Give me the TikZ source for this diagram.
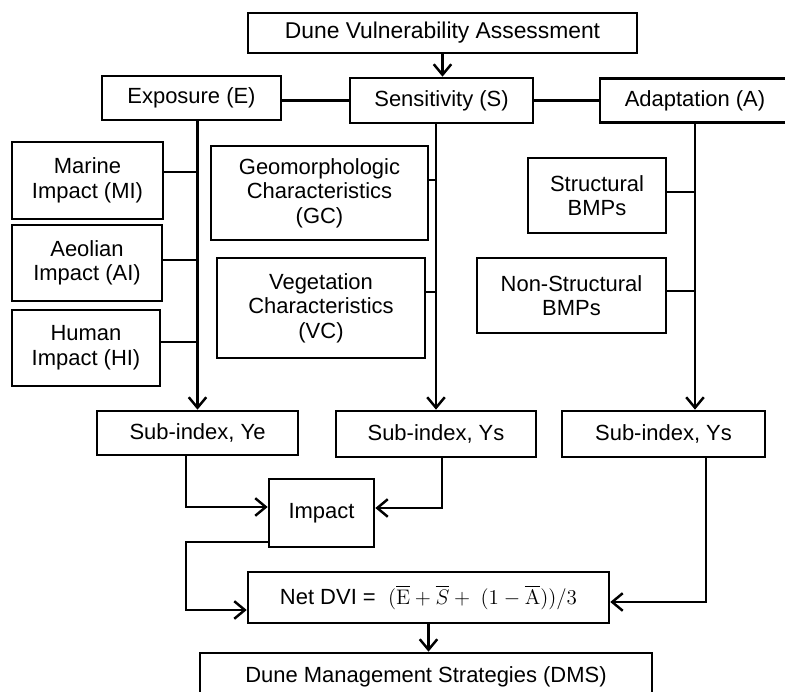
\documentclass[tikz,border=0pt]{standalone}
\usepackage[no-math]{fontspec}
\setmainfont{Liberation Sans}
\usepackage{amsmath}
\usetikzlibrary{arrows.meta}

\begin{document}
\begin{tikzpicture}[
    x=0.02cm, y=-0.02cm,
    box/.style={rectangle, draw, line width=1.5pt, align=center, inner sep=2pt, font=\fontsize{12.5}{14}\selectfont},
    link/.style={line width=1.4pt},
    flow/.style={line width=1.4pt, -{Straight Barb[length=6pt,width=10pt]}}
]
    \useasboundingbox (0,0) rectangle (785,692);

    % Top
    \node[box, minimum width=7.78cm, minimum height=0.8cm, font=\fontsize{13}{15}\selectfont] (dva) at (442.5,33) {Dune Vulnerability Assessment};

    % Three components
    \node[box, minimum width=3.58cm, minimum height=0.88cm] (expo) at (191.5,98) {Exposure (E)};
    \node[box, minimum width=3.66cm, minimum height=0.9cm] (sens) at (441.5,100.5) {Sensitivity (S)};
    \node[box, minimum width=3.8cm, minimum height=0.88cm] (adapt) at (695,100.5) {Adaptation (A)};
    \draw[flow] (dva.south) -- (dva.south |- sens.north);
    \draw[link] (sens.west) -- (sens.west -| expo.east);
    \draw[link] (sens.east) -- (sens.east -| adapt.west);

    % Exposure factors
    \node[box, minimum width=3.02cm, minimum height=1.54cm] (marine) at (87.5,180.5) {Marine\\Impact (MI)};
    \node[box, minimum width=3.0cm, minimum height=1.52cm] (aeolian) at (87,263) {Aeolian\\Impact (AI)};
    \node[box, minimum width=2.96cm, minimum height=1.52cm] (human) at (86,348) {Human\\Impact (HI)};

    % Sensitivity factors
    \node[box, minimum width=4.34cm, minimum height=1.88cm] (gc) at (319.5,193) {Geomorphologic\\Characteristics\\(GC)};
    \node[box, minimum width=4.16cm, minimum height=2.0cm] (vc) at (321,308) {Vegetation\\Characteristics\\(VC)};

    % Adaptation factors
    \node[box, minimum width=2.76cm, minimum height=1.5cm] (struct) at (597,195.5) {Structural\\BMPs};
    \node[box, minimum width=3.78cm, minimum height=1.5cm] (nonstr) at (571.5,295.5) {Non-Structural\\BMPs};

    % Sub-indices
    \node[box, minimum width=4.02cm, minimum height=0.88cm] (ye) at (197.5,433) {Sub-index, Ye};
    \node[box, minimum width=4.0cm, minimum height=0.92cm] (ys1) at (436,434) {Sub-index, Ys};
    \node[box, minimum width=4.06cm, minimum height=0.92cm] (ys2) at (663.5,434) {Sub-index, Ys};

    % Exposure branch
    \draw[flow] (ye.north |- expo.south) -- (ye.north);
    \coordinate (mi) at ([yshift=0.17cm]marine.east);
    \coordinate (ai) at ([yshift=0.06cm]aeolian.east);
    \coordinate (hi) at ([yshift=0.12cm]human.east);
    \draw[link] (mi) -- (mi -| ye.north);
    \draw[link] (ai) -- (ai -| ye.north);
    \draw[link] (hi) -- (hi -| ye.north);

    % Sensitivity branch
    \draw[flow] (ys1.north |- sens.south) -- (ys1.north);
    \coordinate (gcr) at ([yshift=0.26cm]gc.east);
    \coordinate (vcr) at ([yshift=0.32cm]vc.east);
    \draw[link] (gcr) -- (gcr -| ys1.north);
    \draw[link] (vcr) -- (vcr -| ys1.north);

    % Adaptation branch
    \draw[flow] (adapt.south) -- (adapt.south |- ys2.north);
    \coordinate (sr) at ([yshift=0.07cm]struct.east);
    \coordinate (nr) at ([yshift=0.09cm]nonstr.east);
    \draw[link] (sr) -- (sr -| adapt.south);
    \draw[link] (nr) -- (nr -| adapt.south);

    % Impact
    \node[box, minimum width=2.1cm, minimum height=1.36cm] (impact) at (321.5,513) {Impact};
    \coordinate (yeout) at ([xshift=-0.23cm]ye.south);
    \draw[flow] (yeout) |- ([yshift=0.12cm]impact.west);
    \draw[flow] ([xshift=0.12cm]ys1.south) |- ([yshift=0.1cm]impact.east);

    % Net index
    \node[box, minimum width=7.22cm, minimum height=1.02cm] (net) at (428.5,597.5)
        {Net DVI = \ $(\overline{\mathrm{E}}+\overline{S}+\;(1-\overline{\mathrm{A}}))/3$};
    \coordinate (imp) at ([yshift=-0.58cm]impact.west);
    \draw[flow] (imp) -- (imp -| yeout) |- ([yshift=-0.25cm]net.west);
    \draw[flow] ([xshift=0.85cm]ys2.south) |- ([yshift=-0.09cm]net.east);

    % Strategies
    \node[box, minimum width=9.04cm, minimum height=0.96cm] (dms) at (426,677) {Dune Management Strategies (DMS)};
    \draw[flow] (net.south) -- (net.south |- dms.north);
\end{tikzpicture}
\end{document}
